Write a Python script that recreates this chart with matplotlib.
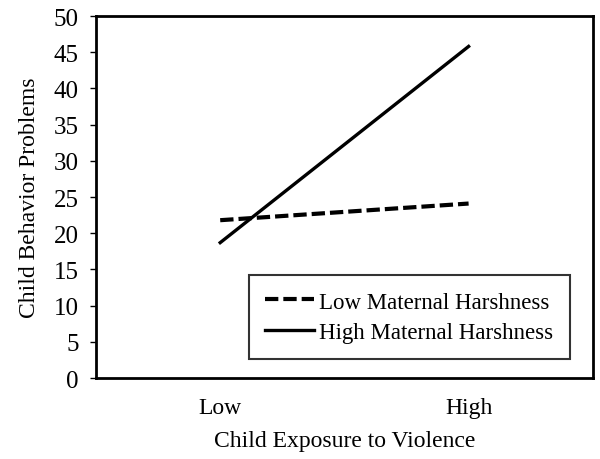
import matplotlib
matplotlib.use("Agg")
import matplotlib.pyplot as plt

# data
categories = ["Low", "High"]
low_harsh = [21.8, 24.1]
high_harsh = [18.7, 45.8]
y_ticks = list(range(0, 55, 5))

plt.rcParams['font.family'] = ['Liberation Serif', 'DejaVu Serif']

fig = plt.figure(figsize=(6, 4.6), dpi=100)
ax = fig.add_axes([0.16, 0.176, 0.828, 0.787])

x = list(range(len(categories)))
ax.plot(x, low_harsh, color="black", linestyle=(0, (3.2, 1.2)), linewidth=3,
        label="Low Maternal Harshness")
ax.plot(x, high_harsh, color="black", linestyle="-", linewidth=2.4,
        label="High Maternal Harshness")

ax.set_xlim(-0.5, 1.5)
ax.set_ylim(0, 50)
ax.set_xticks(x)
ax.set_xticklabels(categories, fontsize=17)
ax.set_yticks(y_ticks)
ax.tick_params(axis="y", labelsize=18, length=4.3, width=1, direction="out", pad=8)
ax.tick_params(axis="x", length=0, pad=14)
for s in ax.spines.values():
    s.set_linewidth(2)

ax.set_ylabel("Child Behavior Problems", fontsize=17, labelpad=10)
ax.set_xlabel("Child Exposure to Violence", fontsize=17, labelpad=8)

leg = ax.legend(loc="lower right", bbox_to_anchor=(0.954, 0.052), fontsize=16.5,
                frameon=True, fancybox=False, edgecolor="black",
                handlelength=2.1, handletextpad=0.25, borderpad=0.72,
                labelspacing=0.4, borderaxespad=0)
leg.get_frame().set_linewidth(1.5)

fig.savefig("out.png", dpi=100)
